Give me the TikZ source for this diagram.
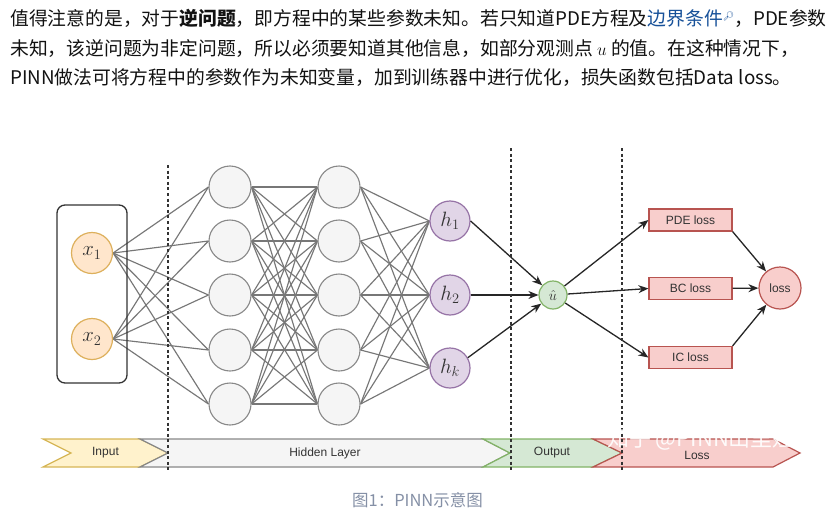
\documentclass[tikz,border=0pt]{standalone}
\usepackage[no-math]{fontspec}
\setmainfont{Noto Sans CJK SC}
\newfontfamily\diagfont{Liberation Sans}
\newfontfamily\emojifont{Noto Emoji}
\usetikzlibrary{arrows.meta,backgrounds}
\definecolor{zhtext}{HTML}{121212}
\definecolor{zhblue}{HTML}{175199}
\definecolor{zhcap}{HTML}{8590A6}
\definecolor{pnlabel}{HTML}{333333}
\definecolor{pnedge}{HTML}{777777}
\definecolor{pngrayF}{HTML}{F5F5F5}
\definecolor{pngrayD}{HTML}{888888}
\definecolor{pnpeachF}{HTML}{FFE6CC}
\definecolor{pnpeachD}{HTML}{DDB05C}
\definecolor{pnyellowF}{HTML}{FFF2CC}
\definecolor{pnyellowD}{HTML}{D6B656}
\definecolor{pnpurpleF}{HTML}{E1D5E7}
\definecolor{pnpurpleD}{HTML}{9673A6}
\definecolor{pngreenF}{HTML}{D5E8D4}
\definecolor{pngreenD}{HTML}{82B366}
\definecolor{pnredF}{HTML}{F8CECC}
\definecolor{pnredD}{HTML}{B85450}

\tikzset{
  neuron/.style={circle, draw=pngrayD, fill=pngrayF, line width=1.1pt, minimum size=42pt, inner sep=0pt},
  innode/.style={circle, draw=pnpeachD, fill=pnpeachF, line width=1.2pt, minimum size=41pt, inner sep=0pt, font=\fontsize{21}{21}\selectfont},
  hnode/.style={circle, draw=pnpurpleD, fill=pnpurpleF, line width=1.2pt, minimum size=40pt, inner sep=0pt, font=\fontsize{20}{20}\selectfont},
  unode/.style={circle, draw=pngreenD, fill=pngreenF, line width=1.2pt, minimum size=28pt, inner sep=0pt, font=\fontsize{14}{14}\selectfont},
  lossbox/.style={rectangle, draw=pnredD, fill=pnredF, line width=1.2pt, minimum width=83pt, minimum height=22pt, inner sep=0pt},
  link/.style={draw=pnedge, line width=1.15pt},
  flow/.style={-{Stealth[length=10pt,width=8pt]}, line width=1.3pt, black!85},
  divider/.style={line width=1.4pt, black!80, dash pattern=on 3pt off 2.6pt},
  stagebar/.style={line width=1.2pt},
  zhline/.style={anchor=base west, inner sep=0pt, text=zhtext, font=\fontsize{18.8}{20}\selectfont}
}

\begin{document}
\begin{tikzpicture}[x=1pt, y=-1pt, every node/.style={font=\diagfont\fontsize{12}{14}\selectfont, text=pnlabel}]
  \useasboundingbox (0,0) rectangle (834,519);

  % text above the figure
  \node[zhline] (line1) at (10,26) {值得注意的是，对于\textbf{逆问题}，即方程中的某些参数未知。若只知道PDE方程及{\color{zhblue}边界条件\raisebox{6pt}{\emojifont\fontsize{9}{9}\selectfont 🔎}}，PDE参数};
  \node[zhline] (line2) at (10,55.5) {未知，该逆问题为非定问题，所以必须要知道其他信息，如部分观测点 $u$ 的值。在这种情况下，};
  \node[zhline] (line3) at (10,84.5) {PINN做法可将方程中的参数作为未知变量，加到训练器中进行优化，损失函数包括Data loss。};

  % input
  \node[draw=black!80, line width=1.3pt, rounded corners=8pt, minimum width=70pt, minimum height=178pt] (inbox) at (92,294) {};
  \node[innode] (x1) at (92,253) {$x_1$};
  \node[innode] (x2) at (92,339) {$x_2$};

  % hidden layers
  \foreach \i/\y in {1/187,2/241,3/295,4/350,5/404} {
    \node[neuron] (a\i) at (230,\y) {};
    \node[neuron] (b\i) at (339,\y) {};
  }

  % outputs
  \node[hnode] (h1) at (450,221) {$h_1$};
  \node[hnode] (h2) at (450,295) {$h_2$};
  \node[hnode] (hk) at (450,368) {$h_k$};
  \node[unode] (uhat) at (553,295) {$\hat{u}$};

  % losses
  \node[lossbox] (pde) at (690.5,220) {PDE loss};
  \node[lossbox] (bc) at (690.5,288.5) {BC loss};
  \node[lossbox] (ic) at (690.5,357.5) {IC loss};
  \node[lossbox, circle, minimum size=42pt] (total) at (780,288) {loss};

  \begin{scope}[on background layer]
    \fill[white] (0,0) rectangle (834,519);
    \foreach \i in {1,...,5} {
      \foreach \s in {x1,x2}
        \draw[link] (\s.east) -- (a\i.west);
      \foreach \j in {1,...,5}
        \draw[link] (a\i.east) -- (b\j.west);
      \foreach \t in {h1,h2,hk}
        \draw[link] (b\i.east) -- (\t.west);
    }
  \end{scope}

  \draw[flow] (h1.east) -- (uhat);
  \draw[flow] (h2) -- (uhat);
  \draw[flow] (hk.30) -- (uhat);
  \draw[flow] (uhat) -- (pde.west);
  \draw[flow] (uhat) -- (bc.west);
  \draw[flow] (uhat) -- (ic.west);
  \draw[flow] (pde.south east) -- (total);
  \draw[flow] (bc) -- (total);
  \draw[flow] (ic.north east) -- (total);

  % stage bar
  \draw[stagebar, fill=pnyellowF, draw=pnyellowD] (43,439) -- (140,439) -- (168,453) -- (140,467) -- (43,467) -- (71,453) -- cycle;
  \draw[stagebar, fill=pngrayF, draw=pngrayD] (140,439) -- (483,439) -- (510,453) -- (483,467) -- (140,467) -- (168,453) -- cycle;
  \draw[stagebar, fill=pngreenF, draw=pngreenD] (483,439) -- (593,439) -- (622,453) -- (593,467) -- (483,467) -- (510,453) -- cycle;
  \draw[stagebar, fill=pnredF, draw=pnredD] (593,439) -- (773,439) -- (800,453) -- (773,467) -- (593,467) -- (622,453) -- cycle;
  \node (sInput) at (105.5,453) {Input};
  \node (sHidden) at (325,453) {Hidden Layer};
  \node (sOutput) at (552,453) {Output};
  \node (sLoss) at (697,455) {Loss};

  % dividers
  \draw[divider] (168,165) -- (168,470);
  \draw[divider] (511,148) -- (511,470);
  \draw[divider] (622,148) -- (622,470);

  % watermark and caption
  \node[font=\fontsize{22}{22}\selectfont, text=white, opacity=0.9] (mark) at (701,439) {知乎 @PINN山里娃};
  \node[font=\fontsize{16.5}{18}\selectfont, text=zhcap] (caption) at (417.5,500.5) {图1：PINN示意图};
\end{tikzpicture}
\end{document}
